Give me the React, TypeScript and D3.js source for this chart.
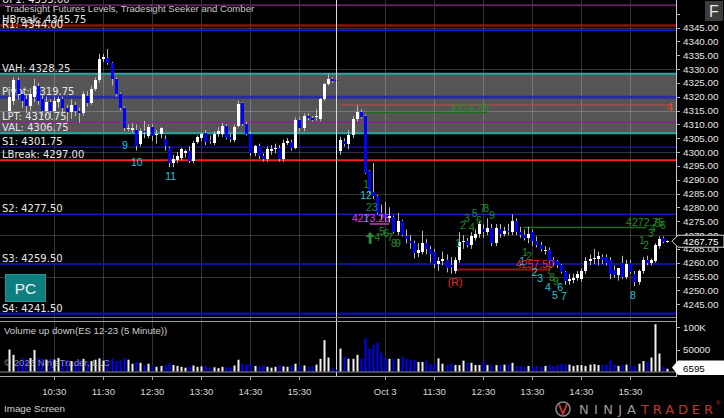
import React from "react";
import * as d3 from "d3";

// [open, high, low, close] per 5 minute bar, ES 12-23
type Bar = [number, number, number, number];

const session1Bars: Bar[] = [
  [4315, 4322, 4313, 4320], [4318.5, 4327, 4317, 4326], [4326, 4327, 4319, 4321], [4321, 4322, 4316, 4318.5],
  [4319, 4321, 4314, 4316.5], [4316.5, 4323, 4315, 4321], [4320, 4326.5, 4318, 4324], [4324, 4325, 4317, 4318.5],
  [4319, 4321, 4313, 4315], [4315, 4320, 4313, 4318], [4318, 4319, 4312, 4315], [4315, 4320, 4314, 4318.5],
  [4318, 4320, 4316, 4319], [4319, 4320, 4313, 4316], [4316, 4317, 4311, 4314.5], [4314.5, 4319, 4312, 4317],
  [4317, 4318, 4313, 4314.75], [4314.75, 4316, 4310.5, 4314], [4314, 4322, 4313, 4321], [4320.25, 4322, 4316.5, 4317.75],
  [4317.75, 4324, 4317, 4322.75], [4322.75, 4327, 4322, 4326], [4326, 4335.5, 4325, 4333.5], [4333.5, 4335.5, 4332.5, 4334.5],
  [4334, 4337.25, 4331.5, 4332.25], [4332.25, 4332.5, 4324, 4326.5], [4326.5, 4327, 4320, 4321], [4321, 4321.5, 4315, 4316],
  [4316, 4316.5, 4307.5, 4308.5], [4308.5, 4310, 4307.5, 4308.75], [4308, 4310.5, 4307, 4308.75], [4308, 4310, 4300.5, 4302.25],
  [4303, 4308.5, 4302, 4307.5], [4307.5, 4311.25, 4305, 4307.25], [4305.75, 4310, 4305, 4309], [4309, 4310, 4304, 4305.75],
  [4306, 4308, 4303, 4306.5], [4306.5, 4309, 4305, 4308.5], [4304.75, 4306, 4300.5, 4302], [4301.5, 4302, 4294.5, 4296],
  [4296, 4299, 4294.5, 4297.5], [4297.25, 4300, 4296, 4298.5], [4298, 4301.5, 4297, 4301], [4299.5, 4301, 4298, 4300.5],
  [4300.5, 4302, 4296, 4296.75], [4296.75, 4304, 4296, 4303.25], [4303.75, 4306, 4303, 4305.5], [4305, 4307, 4304, 4306.5],
  [4307, 4308, 4302.5, 4303.75], [4304.5, 4306, 4303, 4304], [4303.25, 4307.5, 4302.5, 4306.5], [4306.5, 4309, 4305.5, 4307.5],
  [4306.5, 4310.5, 4305.5, 4309.5], [4309.5, 4310, 4304.5, 4305], [4305.5, 4306.5, 4303.5, 4304.75], [4304.5, 4310, 4303.5, 4309],
  [4309.5, 4318.5, 4309, 4317.5], [4317.75, 4318, 4309.5, 4310.25], [4310.25, 4311, 4306, 4306.5], [4306.5, 4307.5, 4298.5, 4299.75],
  [4299.75, 4302.5, 4298.5, 4302], [4302, 4303, 4297.5, 4298.5], [4298.5, 4299.5, 4296.5, 4297.5], [4297.5, 4302, 4296.5, 4301],
  [4300.5, 4302.5, 4299, 4301], [4301, 4303, 4299.5, 4301.5], [4301.5, 4302.5, 4296.5, 4297.5], [4297.5, 4304.5, 4296.5, 4303.25],
  [4303.25, 4305, 4302.5, 4304], [4303.75, 4304.5, 4300.5, 4301.5], [4301.5, 4312.5, 4301, 4311.5], [4311.5, 4312.5, 4307.5, 4308.5],
  [4308.5, 4314, 4307.5, 4313], [4313, 4314, 4311.5, 4312.25], [4312.25, 4313, 4311, 4311.5], [4312.5, 4315.5, 4311.25, 4313],
  [4312, 4319.5, 4311, 4319.25], [4319.25, 4325, 4318.5, 4324.5], [4324.5, 4328.25, 4324, 4326.5], [4326.25, 4327, 4325, 4325.75],
  [4326, 4326.5, 4325, 4325.5],
];

const session2Bars: Bar[] = [
  [4300.5, 4305.5, 4299, 4304.5], [4304, 4305, 4302, 4303], [4303, 4308, 4301, 4306], [4306, 4313, 4305, 4312],
  [4312, 4316.75, 4311, 4314.5], [4314.5, 4315.5, 4312, 4312.75], [4313, 4313.5, 4292, 4292.5], [4293, 4293.5, 4285, 4285.5],
  [4285.5, 4296, 4283, 4284], [4284, 4284.5, 4277.5, 4278], [4278, 4281, 4275.5, 4277.5], [4277.5, 4282, 4275, 4276],
  [4276, 4280, 4274.5, 4277], [4276.5, 4277, 4270.5, 4271], [4271, 4278, 4270, 4275], [4275, 4275.5, 4269.5, 4270],
  [4269.5, 4272, 4267, 4268.5], [4268, 4270, 4265, 4267], [4267, 4268, 4261.5, 4263.5], [4263.5, 4267, 4262, 4264.5],
  [4264, 4271.5, 4263, 4267], [4267, 4268.5, 4263, 4265], [4265, 4266, 4260, 4263], [4264, 4265, 4258, 4259.5],
  [4259.5, 4262, 4257, 4260.5], [4260.5, 4264, 4259, 4261.5], [4261, 4263, 4256.5, 4258], [4259, 4262, 4256, 4258.5],
  [4257, 4262, 4256, 4261], [4261, 4271, 4260, 4267.5], [4267.5, 4270, 4265, 4268], [4268, 4269, 4265.5, 4266.5],
  [4266.5, 4271, 4265, 4269.5], [4269, 4272, 4268, 4270.5], [4270.5, 4275, 4269, 4274], [4272, 4274, 4269, 4271],
  [4271, 4276, 4270, 4272.5], [4272.5, 4274, 4266, 4267], [4267, 4274, 4266, 4272.5], [4272, 4274, 4269, 4270.5],
  [4270.5, 4273, 4269.5, 4271.5], [4271.5, 4274, 4270, 4271], [4271, 4277.5, 4270, 4275], [4275, 4276, 4270, 4271],
  [4271, 4273, 4269, 4270], [4270, 4272, 4268, 4269], [4269, 4273, 4267, 4270.5], [4271, 4272, 4266, 4268],
  [4268, 4269.5, 4265.5, 4266.5], [4266.5, 4267.5, 4264, 4265], [4264.5, 4266, 4263, 4264.5], [4264.5, 4265.5, 4260, 4260.75],
  [4261, 4262, 4259, 4260], [4260.5, 4261, 4258, 4259], [4259, 4259.5, 4256, 4256.5], [4256.5, 4257, 4252, 4253.5],
  [4253.5, 4256, 4252, 4254], [4253.75, 4256, 4252.5, 4254.5], [4254.5, 4257, 4253.5, 4256], [4254, 4258, 4253, 4257],
  [4257, 4262, 4256, 4260.75], [4260.75, 4263, 4259, 4261.5], [4261.25, 4265, 4259.5, 4261.75], [4261.5, 4264, 4259, 4262.5],
  [4262, 4263, 4259.5, 4261], [4262, 4263, 4259, 4260], [4261, 4262, 4254, 4256], [4257.5, 4259, 4254.5, 4255.5],
  [4255.5, 4258, 4253.5, 4258], [4260, 4262.5, 4254, 4255], [4255, 4261, 4254, 4259.5], [4260, 4261, 4256, 4256.5],
  [4256, 4257, 4251.5, 4253], [4253, 4257.5, 4252, 4257], [4257, 4262, 4256, 4261], [4261, 4262.5, 4259, 4260],
  [4260, 4261.5, 4259, 4261], [4260.5, 4267, 4260, 4266.5], [4266, 4269.5, 4265, 4268.5], [4269, 4269.5, 4267, 4267.5],
  [4267.5, 4268, 4267.25, 4267.75],
];

// volume in thousands of contracts
const session1Volume = [
  50, 38, 22, 31, 27, 31, 49, 31, 29, 27, 29, 27, 31, 25, 27, 24, 22, 26, 29, 22,
  24, 27, 30, 25, 27, 29, 24, 25, 31, 27, 18, 22, 20, 14, 18, 13, 11, 13, 15, 20,
  15, 13, 11, 9, 12, 14, 11, 12, 13, 9, 10, 8, 11, 10, 9, 14, 27, 18, 16, 18,
  13, 12, 14, 11, 9, 11, 15, 12, 11, 13, 18, 13, 14, 11, 13, 16, 29, 71, 32, 8, 4,
];
const session2Volume = [
  52, 34, 29, 29, 38, 30, 76, 52, 60, 66, 43, 31, 29, 29, 29, 34, 29, 27, 26, 22,
  22, 25, 17, 18, 30, 18, 15, 18, 15, 15, 25, 20, 20, 15, 15, 24, 15, 15, 15, 15,
  16, 18, 20, 13, 13, 11, 13, 11, 13, 11, 13, 15, 13, 15, 18, 16, 16, 13, 15, 15,
  13, 16, 17, 15, 16, 15, 25, 16, 13, 15, 16, 13, 13, 18, 24, 22, 32, 107, 41, 11, 6.595,
];

const lastPrice = 4267.75;
const lastVolume = 6595;

const priceTicks = [4245, 4250, 4255, 4260, 4265, 4270, 4275, 4280, 4285, 4290, 4295, 4300, 4305, 4310, 4315, 4320, 4325, 4330, 4335, 4340, 4345];
const priceGrid = [4240, 4255, 4270, 4285, 4300, 4315, 4330, 4345];
const volumeTicks = [50000, 100000];
const volumeTickLabels = ["50000", "100K"];

const timeLabels = ["10:30", "11:30", "12:30", "13:30", "14:30", "15:30", "Oct 3", "11:30", "12:30", "13:30", "14:30", "15:30"];
const timeLabelBars = [11, 23, 35, 47, 59, 71, 92, 104, 116, 128, 140, 152];
const sessionBreakBar = 80;

const levelNames = ["UP1", "HBreak", "R1", "VAH", "Pivot", "LPT", "VAL", "S1", "LBreak", "S2", "S3", "S4"];
const levelValues = [4353, 4345.75, 4344, 4328.25, 4319.75, 4310.75, 4306.75, 4301.75, 4297, 4277.5, 4259.5, 4241.5];

const levelStyle: Record<string, { color: string; width: number }> = {
  UP1: { color: "#5b1f5b", width: 2 },
  HBreak: { color: "#8e1010", width: 2.5 },
  R1: { color: "#1d1dd6", width: 1.5 },
  VAH: { color: "#23aaa3", width: 2 },
  Pivot: { color: "#2b2ba6", width: 3 },
  LPT: { color: "#8f208f", width: 1.5 },
  VAL: { color: "#23aaa3", width: 2 },
  S1: { color: "#1d1dd6", width: 1 },
  LBreak: { color: "#ff1e1e", width: 2 },
  S2: { color: "#1717c4", width: 1.5 },
  S3: { color: "#1717c4", width: 1.5 },
  S4: { color: "#0e0e9e", width: 2.5 },
};

// seeker / comber counts: label, bar index, price
const cyanCounts: [string, number, number][] = [
  ["9", 28.3, 4302.5], ["10", 31.2, 4296.4], ["11", 39.5, 4291.3], ["12", 87.3, 4284.5], ["1", 87.3, 4276.1],
  ["1", 125.5, 4260.5], ["2", 128.6, 4256.6], ["3", 129.9, 4254.5], ["4", 131.8, 4251.2], ["5", 133.5, 4248.3],
  ["6", 134.8, 4251.2], ["7", 135.7, 4248.0], ["8", 152.6, 4248.3],
];
const greenCounts: [string, number, number][] = [
  ["1", 87.3, 4288.4], ["23", 88.7, 4280.1], ["4", 90, 4269.3], ["5", 91.2, 4271.4], ["6", 92.2, 4270.7],
  ["7", 93.2, 4269.3], ["8", 94.1, 4267.1], ["9", 95.1, 4267.1],
  ["1", 109.8, 4267.1], ["2", 111, 4273.6], ["3", 112, 4276.2], ["4", 113.2, 4272.9], ["5", 113.9, 4278],
  ["6", 114.9, 4275.4], ["7", 115.9, 4279.8], ["8", 116.7, 4279.8], ["9", 118.1, 4277.2],
  ["1", 126.2, 4263.9], ["2", 127.2, 4262.4], ["7", 132.1, 4257.4], ["8", 132.8, 4254.8], ["9", 133.8, 4253.4],
  ["1", 154.8, 4268.2], ["2", 155.8, 4266.4], ["3", 157, 4270.7], ["4", 157.5, 4272.5], ["5", 158.7, 4274.3], ["6", 159.97, 4273.6],
];
// target lines: price, from bar, to bar
const greenTargets: [number, number, number][] = [[4314.25, 87.5, 116.9], [4272.75, 125.7, 156]];
const greenTargetLabels: [string, number, number][] = [["4314.25", 112.7, 4315.9], ["4272.75", 155.6, 4274.7]];
const redTargets: [number, number, number][] = [[4257.5, 109.5, 132.3], [4317, 81, 162.3]];
const redTargetLabels: [string, number, number][] = [["4257.50", 128.6, 4259.5], ["4", 161.7, 4316.3], ["(R)", 109.1, 4253]];

const AX = "'Liberation Sans', Arial, sans-serif";
const LV = "'DejaVu Sans', Verdana, sans-serif";
const BLUE = "#0000ff";
const CYAN = "#22c6d8";
const GREEN = "#1f8f24";
const RED = "#ff2424";

export default function App() {
  const bars = [...session1Bars, ...session2Bars];
  const volumes = [...session1Volume, ...session2Volume].map((v) => v * 1000);

  const x = d3.scaleLinear().domain([11, 152]).range([54.3, 630.4]);
  const y = d3.scaleLinear().domain([4330, 4300]).range([69, 152]);
  const yv = d3.scaleLinear().domain([0, 100000]).range([371.7, 327.3]);
  const px = (i: number) => Math.round(x(i));

  const axisX = 676;
  const breakX = Math.round(x(sessionBreakBar)) + 0.5;
  const lastY = y(lastPrice);
  const arrowX = x(88.3);

  return (
    <svg width={724} height={418} style={{ position: "absolute", left: 0, top: 0, display: "block", background: "#000" }}>
      <defs>
        <clipPath id="price-clip"><rect x={0} y={0} width={axisX} height={317} /></clipPath>
      </defs>
      <rect width={724} height={418} fill="#000" />

      <g clipPath="url(#price-clip)">
        {/* value area */}
        <rect x={0} y={y(4328.25)} width={axisX} height={y(4306.75) - y(4328.25)} fill="#555" />
        {priceGrid.map((p) => (
          <line key={p} x1={0} x2={axisX} y1={Math.round(y(p)) + 0.5} y2={Math.round(y(p)) + 0.5} stroke="rgba(255,255,255,0.2)" />
        ))}
      </g>

      {/* hour grid */}
      {timeLabelBars.map((b) => (
        <line key={b} x1={px(b) + 0.5} x2={px(b) + 0.5} y1={0} y2={372} stroke="rgba(255,255,255,0.2)" />
      ))}

      <g clipPath="url(#price-clip)">
        {levelNames.map((n, k) => (
          <line key={n} x1={0} x2={axisX} y1={y(levelValues[k])} y2={y(levelValues[k])}
            stroke={levelStyle[n].color} strokeWidth={levelStyle[n].width} />
        ))}
        {greenTargets.map(([p, a, b], k) => (
          <line key={"g" + k} x1={x(a)} x2={x(b)} y1={y(p)} y2={y(p)} stroke="#1d6b1d" strokeWidth={1.5} />
        ))}
        {redTargets.map(([p, a, b], k) => (
          <line key={"r" + k} x1={x(a)} x2={x(b)} y1={y(p)} y2={y(p)} stroke={k === 0 ? "#a01212" : "#c84848"} strokeWidth={k === 0 ? 2 : 1} />
        ))}
        <line x1={x(88.2)} x2={x(93)} y1={y(4274)} y2={y(4274)} stroke="#8b3a8b" strokeWidth={2} />

        {levelNames.map((n, k) => (
          <text key={n} x={2} y={y(levelValues[k]) - 2} fill="#e8e8e8" fontFamily={LV} fontSize={10}>
            {`${n}: ${levelValues[k].toFixed(2)}`}
          </text>
        ))}

        {/* candles */}
        {bars.map(([o, h, l, c], i) => {
          const cx = px(i);
          const up = c >= o;
          const top = Math.round(y(Math.max(o, c)));
          const bot = Math.round(y(Math.min(o, c)));
          return (
            <g key={i}>
              <line x1={cx + 0.5} x2={cx + 0.5} y1={y(h)} y2={y(l)} stroke="#b8b8b8" />
              <rect x={cx - 1} y={top} width={3} height={Math.max(1, bot - top)} fill={up ? "#ffffff" : BLUE} />
            </g>
          );
        })}
      </g>

      {/* session break */}
      <line x1={breakX} x2={breakX} y1={0} y2={376} stroke="#dadada" />

      {/* seeker annotations */}
      <g fontFamily={AX} fontSize={10.5} textAnchor="middle">
        {cyanCounts.map(([t, b, p], k) => (
          <text key={"c" + k} x={x(b)} y={y(p)} dy="0.35em" fill={CYAN}>{t}</text>
        ))}
        {greenCounts.map(([t, b, p], k) => (
          <text key={"n" + k} x={x(b)} y={y(p)} dy="0.35em" fill={GREEN}>{t}</text>
        ))}
        {greenTargetLabels.map(([t, b, p], k) => (
          <text key={"gl" + k} x={x(b)} y={y(p)} dy="0.35em" fill={GREEN}>{t}</text>
        ))}
        {redTargetLabels.map(([t, b, p], k) => (
          <text key={"rl" + k} x={x(b)} y={y(p)} dy="0.35em" fill={k === 1 ? "#f04a22" : RED}>{t}</text>
        ))}
        <text x={x(88.5)} y={y(4276.1)} dy="0.35em" fill="#e83ce8">4273.25</text>
      </g>
      <path
        d={`M${arrowX - 4.5},${y(4271.1) + 5} L${arrowX},${y(4271.1)} L${arrowX + 4.5},${y(4271.1) + 5} L${arrowX + 1.5},${y(4271.1) + 5} L${arrowX + 1.5},${y(4266.8)} L${arrowX - 1.5},${y(4266.8)} L${arrowX - 1.5},${y(4271.1) + 5} Z`}
        fill="#2e8b3a"
      />

      {/* title */}
      <text x={5} y={12} fill="#c8c8c8" fontFamily={AX} fontSize={9.6}>Tradesight Futures Levels, Tradesight Seeker and Comber</text>

      {/* panel separators */}
      <line x1={0} x2={axisX} y1={317.5} y2={317.5} stroke="#7c7c7c" />
      <line x1={0} x2={axisX} y1={321.5} y2={321.5} stroke="#9a9a9a" />

      {/* volume */}
      {volumes.map((v, i) => {
        const [o, , , c] = bars[i];
        return (
          <rect key={i} x={px(i) - 0.5} y={yv(v)} width={2} height={yv(0) - yv(v)} fill={c >= o ? "#f2f2f2" : BLUE} />
        );
      })}
      <text x={4} y={334} fill="#cfcfcf" fontFamily={AX} fontSize={9.6}>Volume up down(ES 12-23 (5 Minute))</text>
      <text x={4} y={366} fill="#bdbdbd" fillOpacity={0.75} fontFamily={AX} fontSize={9.6}>© 2023 NinjaTrader, LLC</text>
      <line x1={0} x2={axisX} y1={372} y2={372} stroke="#8c8c8c" />
      <line x1={0} x2={axisX} y1={376.5} y2={376.5} stroke="#a8a8a8" />
      {timeLabelBars.map((b, k) => (
        <g key={k}>
          <line x1={px(b) + 0.5} x2={px(b) + 0.5} y1={376} y2={380} stroke="#a8a8a8" />
          <text x={x(b)} y={394.5} textAnchor="middle" fill="#d6d6d6" fontFamily={AX} fontSize={9.6}>{timeLabels[k]}</text>
        </g>
      ))}

      {/* right price axis */}
      <line x1={axisX + 0.5} x2={axisX + 0.5} y1={0} y2={377} stroke="#c8c8c8" />
      <line x1={axisX} x2={axisX + 4} y1={Math.round(y(4350)) + 0.5} y2={Math.round(y(4350)) + 0.5} stroke="#b0b0b0" />
      {priceTicks.map((p) => (
        <g key={p}>
          <line x1={axisX} x2={axisX + 4} y1={Math.round(y(p)) + 0.5} y2={Math.round(y(p)) + 0.5} stroke="#b0b0b0" />
          <text x={683} y={y(p) + 3.5} fill="#e6e6e6" fontFamily={AX} fontSize={9.8}>{p.toFixed(2)}</text>
        </g>
      ))}
      <path d={`M672,${lastY} L678,${lastY - 6} L724,${lastY - 6} L724,${lastY + 6} L678,${lastY + 6} Z`} fill="#000" stroke="#dcdcdc" />
      <text x={683} y={lastY + 3.5} fill="#ffffff" fontFamily={AX} fontSize={9.8}>{lastPrice.toFixed(2)}</text>

      {/* volume axis */}
      {volumeTicks.map((v, k) => (
        <g key={v}>
          <line x1={axisX} x2={axisX + 4} y1={Math.round(yv(v)) + 0.5} y2={Math.round(yv(v)) + 0.5} stroke="#b0b0b0" />
          <text x={683} y={yv(v) + 3.5} fill="#e6e6e6" fontFamily={AX} fontSize={9.8}>{volumeTickLabels[k]}</text>
        </g>
      ))}
      <path d="M672,367.5 L678,360.5 L724,360.5 L724,375 L678,375 Z" fill="#ffffff" />
      <text x={683} y={371.5} fill="#000" fontFamily={AX} fontSize={9.8}>{lastVolume}</text>

      {/* buttons */}
      <rect x={705} y={1} width={18} height={20} fill="#3c3c3c" />
      <text x={714} y={17} textAnchor="middle" fill="#e8e8e8" fontFamily={AX} fontSize={16}>F</text>
      <rect x={5.5} y={274.5} width={40} height={27} fill="#0e7f7f" stroke="#1a9a9a" />
      <text x={25.5} y={294} textAnchor="middle" fill="#e8f4f4" fontFamily={AX} fontSize={15.5}>PC</text>

      {/* footer */}
      <text x={4} y={412} fill="#d0d0d0" fontFamily={AX} fontSize={9.8}>Image Screen</text>
      <circle cx={563} cy={409} r={7} fill="none" stroke="#8a8a8a" strokeWidth={1.5} />
      <path d="M559,404 L563,414 L567,404" fill="none" stroke="#c0392b" strokeWidth={2} />
      <text x={579} y={414} fill="#9a9a9a" fontFamily={LV} fontSize={13} textLength={57} lengthAdjust="spacing">NINJA</text>
      <text x={641} y={414} fill="#c0392b" fontFamily={LV} fontSize={13} textLength={72} lengthAdjust="spacing">TRADER</text>
      <text x={716} y={405} fill="#c0392b" fontFamily={AX} fontSize={6}>®</text>
    </svg>
  );
}
